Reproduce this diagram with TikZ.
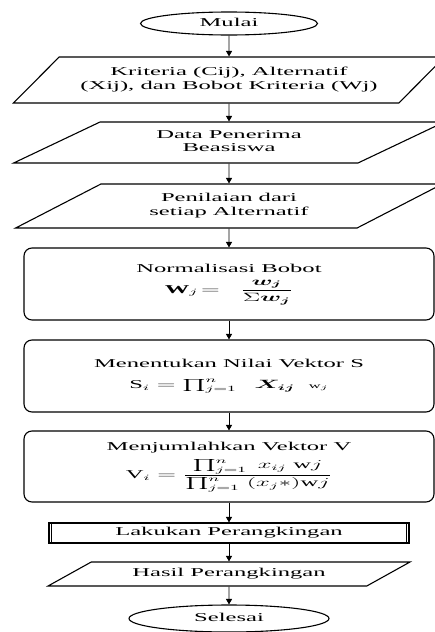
\documentclass[tikz,border=0pt]{standalone}
\usepackage{amsmath,amssymb}
\usepackage{fontspec}
\setmainfont{Liberation Serif}
\usepackage{graphicx}
\usepackage{tikz}
\usetikzlibrary{shapes.geometric,arrows.meta}
% node texts of the scan are wide, so stretch them sideways
\newcommand{\wide}[1]{\scalebox{2.05}[1]{\begin{tabular}{@{}c@{}}#1\end{tabular}}}

\begin{document}
\begin{tikzpicture}[x=1pt,y=-1pt,font=\fontsize{12}{13.5}\selectfont,>={Triangle[length=5.5pt,width=6pt]},
  every node/.style={draw,line width=1.1pt,inner sep=0pt,align=center},
  terminal/.style={ellipse},
  io/.style={trapezium,trapezium stretches=true},
  proc/.style={rounded corners=8pt,minimum width=410pt,minimum height=72pt}]
  \useasboundingbox (0,0) rectangle (434,632);
  \node[terminal,minimum width=177pt,minimum height=23pt] (mulai) at (229,23.5) {\wide{Mulai}};
  \node[io,trapezium left angle=34,trapezium right angle=146,minimum width=433pt,minimum height=46pt] (input) at (229,80) {\wide{Kriteria (Cij), Alternatif\\(Xij), dan Bobot Kriteria (Wj)}};
  \node[io,trapezium left angle=29,trapezium right angle=151,minimum width=432pt,minimum height=41pt] (data) at (229,142.5) {\wide{Data Penerima\\Beasiswa}};
  \node[io,trapezium left angle=27,trapezium right angle=153,minimum width=427pt,minimum height=44pt] (nilai) at (229,206) {\wide{Penilaian dari\\setiap Alternatif}};
  \node[proc] (norm) at (229,284) {\wide{Normalisasi Bobot\\[3pt] $\mathbf{W}_j\!=\;\;\dfrac{\boldsymbol{w_j}}{\Sigma\boldsymbol{w_j}}$}};
  \node[proc] (vs) at (229,376) {\wide{Menentukan Nilai Vektor S\\[7pt] $\mathrm{S}_i = \prod_{j=1}^{n}\;\;\boldsymbol{X_{ij}}\;\;{\scriptstyle\mathrm{w}_j}$}};
  \node[proc,minimum height=71pt] (vv) at (229,466.5) {\wide{Menjumlahkan Vektor V\\[5pt] $\mathrm{V}_i = \dfrac{\textstyle\prod_{j=1}^{n}\; x_{ij}\;\mathrm{w}j}{\textstyle\prod_{j=1}^{n}\;(x_j *)\mathrm{w}j}$}};
  \node[minimum width=360pt,minimum height=20pt] (urut) at (229,533) {\wide{Lakukan Perangkingan}};
  \draw[line width=1.1pt] ([xshift=3pt]urut.north west)--([xshift=3pt]urut.south west);
  \draw[line width=1.1pt] ([xshift=-3pt]urut.north east)--([xshift=-3pt]urut.south east);
  \node[io,trapezium left angle=24,trapezium right angle=156,minimum width=362pt,minimum height=24pt] (hasil) at (229,574) {\wide{Hasil Perangkingan}};
  \node[terminal,minimum width=200pt,minimum height=27pt] (selesai) at (229,618.5) {\wide{Selesai}};
  \draw[->,line width=0.9pt] (mulai)--(input); \draw[->,line width=0.9pt] (input)--(data);
  \draw[->,line width=0.9pt] (data)--(nilai); \draw[->,line width=0.9pt] (nilai)--(norm);
  \draw[->,line width=0.9pt] (norm)--(vs); \draw[->,line width=0.9pt] (vs)--(vv);
  \draw[->,line width=0.9pt] (vv)--(urut); \draw[->,line width=0.9pt] (urut)--(hasil);
  \draw[->,line width=0.9pt] (hasil)--(selesai);
\end{tikzpicture}
\end{document}
